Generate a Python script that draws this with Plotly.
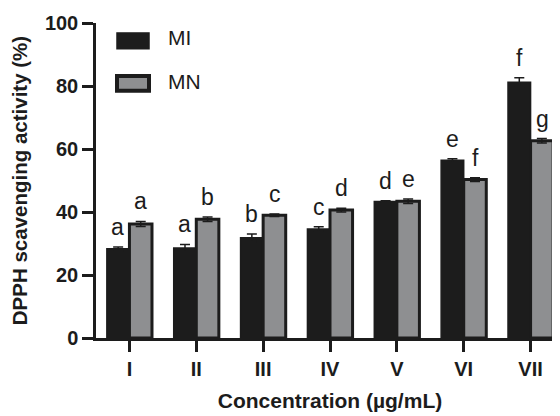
import plotly.graph_objects as go

categories = ["I", "II", "III", "IV", "V", "VI", "VII"]
mi_values = [28.3, 28.6, 31.8, 34.6, 43.3, 56.4, 81.2]
mi_errors = [0.6, 1.1, 1.2, 0.7, 0.3, 0.5, 1.4]
mn_values = [36.2, 37.7, 39.0, 40.6, 43.4, 50.3, 62.6]
mn_errors = [0.8, 0.7, 0.4, 0.6, 0.7, 0.6, 0.7]
mi_letters = ["a", "a", "b", "c", "d", "e", "f"]
mn_letters = ["a", "b", "c", "d", "e", "f", "g"]
series_names = ["MI", "MN"]
y_ticks = [0, 20, 40, 60, 80, 100]

DARK = "#1c1c1c"
GREY = "#8e8f91"
FONT = "Liberation Sans, Arial, sans-serif"

# page body has an 8px default margin; lay out in figure coordinates
OFF = 8
W, H = 560, 416
ML, MR, MT, MB = 96 - OFF, 4, 20 - OFF, H - (338 - OFF)
PW = W - ML - MR
PH = H - MT - MB


def px_x(sx):
    return (sx - OFF - ML) / PW


def px_y(sy):
    return (H - MB - (sy - OFF)) / PH


fig = go.Figure()
fig.add_trace(go.Bar(
    x=categories, y=mi_values, name=series_names[0],
    marker=dict(color=DARK, line=dict(color=DARK, width=1.5)),
    error_y=dict(type="data", array=mi_errors, visible=True, color=DARK, thickness=1.5, width=5),
    showlegend=False,
))
fig.add_trace(go.Bar(
    x=categories, y=mn_values, name=series_names[1],
    marker=dict(color=GREY, line=dict(color=DARK, width=3)),
    error_y=dict(type="data", array=mn_errors, visible=True, color=DARK, thickness=1.5, width=5),
    showlegend=False,
))

# significance letters
annotations = []
for i, c in enumerate(categories):
    for k, (vals, errs, letters) in enumerate(
        [(mi_values, mi_errors, mi_letters), (mn_values, mn_errors, mn_letters)]
    ):
        annotations.append(dict(
            x=c, y=vals[i] + errs[i], xref="x", yref="y",
            text=letters[i], showarrow=False,
            xshift=(-11.5 if k == 0 else 11.5), yshift=5, yanchor="bottom",
            font=dict(family=FONT, size=23, color=DARK),
        ))

# legend drawn manually
shapes = []
legend_box = [(30, 46), (73.5, 88.5)]
legend_text_y = [35, 79.5]
for name, fill, lw, (y0, y1), ty in zip(series_names, [DARK, GREY], [1.5, 4], legend_box, legend_text_y):
    shapes.append(dict(
        type="rect", xref="paper", yref="paper",
        x0=px_x(117), x1=px_x(149),
        y0=px_y(y1), y1=px_y(y0),
        fillcolor=fill, line=dict(color=DARK, width=lw),
    ))
    annotations.append(dict(
        x=px_x(166), y=px_y(ty), xref="paper", yref="paper",
        text=name, showarrow=False, xanchor="left", yanchor="middle",
        font=dict(family=FONT, size=21, color=DARK),
    ))

fig.update_layout(
    width=W, height=H,
    margin=dict(l=ML, r=MR, t=MT, b=MB),
    paper_bgcolor="white", plot_bgcolor="white",
    barmode="group", bargap=0.325, bargroupgap=0,
    annotations=annotations, shapes=shapes,
    font=dict(family=FONT, color=DARK),
    xaxis=dict(
        range=[-0.5, 6.5],
        showline=True, linecolor=DARK, linewidth=2.5,
        ticks="outside", ticklen=11, tickwidth=2.5, tickcolor=DARK,
        tickfont=dict(family=FONT, size=20, color=DARK, weight="bold"),
        title=dict(text="Concentration (µg/mL)", standoff=15,
                   font=dict(family=FONT, size=21, color=DARK, weight="bold")),
        showgrid=False, zeroline=False,
    ),
    yaxis=dict(
        range=[0, 100], tickvals=y_ticks,
        showline=True, linecolor=DARK, linewidth=2.5,
        ticks="outside", ticklen=11, tickwidth=2.5, tickcolor=DARK,
        tickfont=dict(family=FONT, size=20, color=DARK, weight="bold"),
        title=dict(text="DPPH scavenging activity (%)", standoff=12,
                   font=dict(family=FONT, size=20.5, color=DARK, weight="bold")),
        showgrid=False, zeroline=False,
    ),
)

fig.write_html("out.html")
